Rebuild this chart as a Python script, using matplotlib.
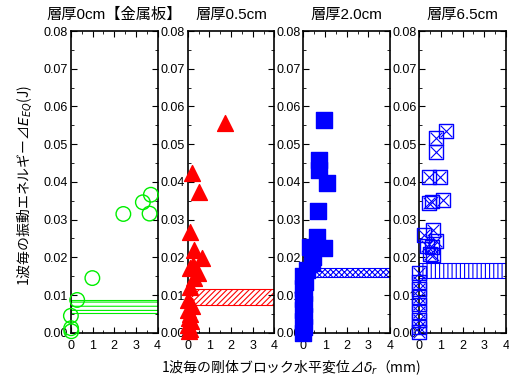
import numpy as np
import matplotlib.pyplot as plt
from matplotlib.ticker import MultipleLocator

plt.rcParams['font.family'] = ['Liberation Sans', 'Noto Sans CJK JP', 'DejaVu Sans']
plt.rcParams['hatch.linewidth'] = 0.8
plt.rcParams['mathtext.fontset'] = 'custom'
plt.rcParams['mathtext.rm'] = 'Liberation Sans'
plt.rcParams['mathtext.it'] = 'DejaVu Sans:italic'

titles = ['層厚0cm【金属板】', '層厚0.5cm', '層厚2.0cm', '層厚6.5cm']

# panel 1: metal plate (green circles)
x0 = [2.42, 3.32, 3.69, 3.63, 0.99, 0.29, 0.0, 0.01, 0.02]
y0 = [0.0315, 0.0346, 0.0366, 0.0316, 0.0145, 0.0087, 0.0045, 0.0012, 0.0004]

# panel 2: 0.5cm (red triangles)
x1 = [1.73, 0.18, 0.54, 0.11, 0.29, 0.65, 0.26, 0.49, 0.11, 0.0,
      0.05, 0.1, 0.0, 0.15, 0.05, 0.1, 0.0, 0.2, 0.3, 0.12]
y1 = [0.0556, 0.0423, 0.0374, 0.0266, 0.0219, 0.0197, 0.018, 0.0158, 0.0122, 0.0087,
      0.0005, 0.001, 0.002, 0.003, 0.004, 0.005, 0.006, 0.007, 0.0145, 0.0172]

# panel 3: 2.0cm (blue squares)
x2 = [0.93, 0.73, 0.70, 1.08, 0.65, 0.62, 0.31, 0.97, 0.46, 0.39, 0.15,
      0.0, 0.02, 0.0, 0.03, 0.0, 0.02, 0.0, 0.03, 0.0, 0.05, 0.0]
y2 = [0.0565, 0.0458, 0.0432, 0.0396, 0.0324, 0.0255, 0.0228, 0.0224, 0.0202, 0.0184, 0.0166,
      0.0, 0.0015, 0.003, 0.0045, 0.006, 0.0075, 0.009, 0.0105, 0.012, 0.0135, 0.015]

# panel 4: 6.5cm (blue boxed x)
x3 = [1.25, 0.79, 0.77, 0.46, 0.94, 0.59, 1.1, 0.45, 0.62, 0.23, 0.77, 0.35, 0.6, 0.5, 0.65,
      0.0, 0.0, 0.0, 0.0, 0.0, 0.0, 0.0, 0.0, 0.0]
y3 = [0.0535, 0.0516, 0.048, 0.0414, 0.0412, 0.0348, 0.0352, 0.0345, 0.0273, 0.0259, 0.0244,
      0.023, 0.0228, 0.021, 0.0206,
      0.0158, 0.0135, 0.0115, 0.0095, 0.0075, 0.0055, 0.0035, 0.0015, 0.0003]

# bands (lower, upper) for each panel
bands = [(0.0053, 0.0086), (0.0073, 0.0116), (0.0149, 0.0171), (0.0144, 0.0186)]
band_col = ['#00ee00', 'red', 'blue', 'blue']
band_hatch = ['----', '//////', 'xxxxxx', '||||']

fig = plt.figure(figsize=(5.1, 3.79), dpi=100)
lefts = [0.139, 0.368, 0.595, 0.822]
axs = [fig.add_axes([l, 0.122, 0.170, 0.796]) for l in lefts]

for i, ax in enumerate(axs):
    lo, hi = bands[i]
    ax.fill_between([0, 4], lo, hi, facecolor='none', edgecolor=band_col[i],
                    hatch=band_hatch[i], linewidth=0.8, zorder=1)
    ax.set_xlim(0, 4)
    ax.set_ylim(0, 0.08)
    ax.xaxis.set_major_locator(MultipleLocator(1))
    ax.xaxis.set_minor_locator(MultipleLocator(0.5))
    ax.yaxis.set_major_locator(MultipleLocator(0.01))
    ax.yaxis.set_minor_locator(MultipleLocator(0.005))
    ax.yaxis.set_major_formatter(plt.FormatStrFormatter('%.2f'))
    ax.tick_params(which='both', direction='in', top=True, right=True, labelsize=9, pad=2)
    ax.tick_params(axis='x', pad=5)
    ax.tick_params(which='major', length=4)
    ax.tick_params(which='minor', length=2.5)
    for s in ax.spines.values():
        s.set_linewidth(1.2)
    ax.set_title(titles[i], fontsize=11, pad=9)

axs[0].scatter(x0, y0, s=110, facecolors='none', edgecolors='#00ee00', linewidths=1, clip_on=False, zorder=3)
axs[1].scatter(x1, y1, s=130, marker='^', color='red', clip_on=False, zorder=3)
axs[2].scatter(x2, y2, s=130, marker='s', color='blue', clip_on=False, zorder=3)
axs[3].scatter(x3, y3, s=100, marker='s', facecolors='none', edgecolors='blue', linewidths=1, clip_on=False, zorder=3)
axs[3].scatter(x3, y3, s=70, marker='x', color='blue', linewidths=0.8, clip_on=False, zorder=3)

cjk = 'Noto Sans CJK JP'
fig.text(0.048, 0.51, '1波毎の振動エネルギー⊿$E_{EQ}$(J)', rotation=90, ha='center', va='center',
         fontsize=10, family=cjk)
fig.text(0.57, 0.03, '1波毎の剛体ブロック水平変位⊿$\\delta_r$（mm)', ha='center', va='center',
         fontsize=10, family=cjk)

fig.savefig('out.png', dpi=100)
